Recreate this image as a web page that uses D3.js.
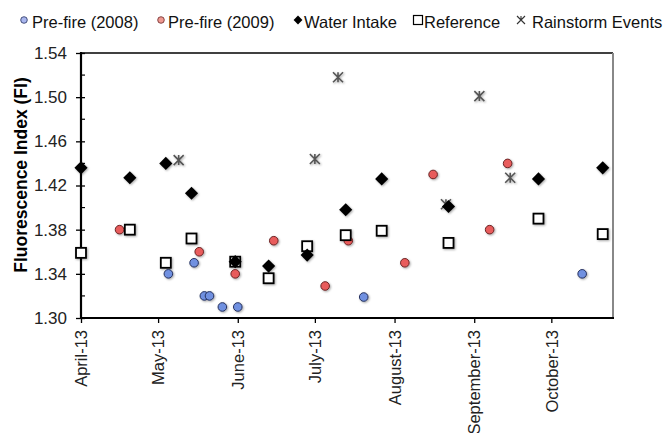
<!DOCTYPE html>
<html>
<head>
<meta charset="utf-8">
<script src="https://cdn.jsdelivr.net/npm/d3@7"></script>
<style>
  body { margin: 0; background: #fff; }
  svg { display: block; font-family: "Liberation Sans", Arial, sans-serif; }
</style>
</head>
<body>
<svg id="chart" width="667" height="433"></svg>
<script>
// values (date, FI)
const preFire2008 = [
  ["2013-05-05", 1.340], ["2013-05-15", 1.350], ["2013-05-19", 1.320],
  ["2013-05-21", 1.320], ["2013-05-26", 1.310], ["2013-06-01", 1.310],
  ["2013-07-20", 1.319], ["2013-10-13", 1.340]
];
const preFire2009 = [
  ["2013-04-16", 1.380], ["2013-05-17", 1.360], ["2013-05-31", 1.340],
  ["2013-06-15", 1.370], ["2013-07-05", 1.329], ["2013-07-14", 1.370],
  ["2013-08-05", 1.350], ["2013-08-16", 1.430], ["2013-09-07", 1.380],
  ["2013-09-14", 1.440]
];
const waterIntake = [
  ["2013-04-01", 1.436], ["2013-04-20", 1.427], ["2013-05-04", 1.440],
  ["2013-05-14", 1.413], ["2013-05-31", 1.351], ["2013-06-13", 1.347],
  ["2013-06-28", 1.357], ["2013-07-13", 1.398], ["2013-07-27", 1.426],
  ["2013-08-22", 1.401], ["2013-09-26", 1.426], ["2013-10-21", 1.436]
];
const reference = [
  ["2013-04-01", 1.359], ["2013-04-20", 1.380], ["2013-05-04", 1.350],
  ["2013-05-14", 1.372], ["2013-05-31", 1.351], ["2013-06-13", 1.336],
  ["2013-06-28", 1.365], ["2013-07-13", 1.375], ["2013-07-27", 1.379],
  ["2013-08-22", 1.368], ["2013-09-26", 1.390], ["2013-10-21", 1.376]
];
const rainstorms = [
  ["2013-05-09", 1.443], ["2013-07-01", 1.444], ["2013-07-10", 1.518],
  ["2013-08-21", 1.403], ["2013-09-03", 1.501], ["2013-09-15", 1.427]
];
const monthTicks = ["2013-04-01", "2013-05-01", "2013-06-01", "2013-07-01",
  "2013-08-01", "2013-09-01", "2013-10-01"];
const yTicks = [1.30, 1.34, 1.38, 1.42, 1.46, 1.50, 1.54];
const yMinor = [1.32, 1.36, 1.40, 1.44, 1.48, 1.52];

const parse = d3.utcParse("%Y-%m-%d");
const svg = d3.select("#chart");

const plotLeft = 81, plotRight = 613, plotTop = 53, plotBottom = 318;

const x = d3.scaleUtc()
  .domain([parse("2013-04-01"), parse("2013-10-25")])
  .range([plotLeft, plotRight]);
const y = d3.scaleLinear()
  .domain([1.30, 1.54])
  .range([plotBottom, plotTop]);

// soft shadow like the spreadsheet markers
const defs = svg.append("defs");
defs.append("filter").attr("id", "shadow")
  .attr("x", "-50%").attr("y", "-50%").attr("width", "200%").attr("height", "200%")
  .append("feDropShadow")
  .attr("dx", 1).attr("dy", 1).attr("stdDeviation", 0.9)
  .attr("flood-color", "#000").attr("flood-opacity", 0.35);

// frame
svg.append("line").attr("x1", plotLeft).attr("x2", plotRight).attr("y1", plotTop).attr("y2", plotTop)
  .attr("stroke", "#000").attr("stroke-width", 1.5);
svg.append("line").attr("x1", plotRight).attr("x2", plotRight).attr("y1", plotTop).attr("y2", plotBottom)
  .attr("stroke", "#888").attr("stroke-width", 2);

// y axis
const yAxis = svg.append("g")
  .attr("transform", `translate(${plotLeft},0)`)
  .call(d3.axisLeft(y).tickValues(yTicks).tickFormat(d3.format(".2f")).tickSize(4).tickPadding(10));
yAxis.select(".domain").remove();
yAxis.selectAll(".tick line").attr("x1", 4).attr("x2", -5).attr("stroke-width", 1.3);
yAxis.selectAll(".tick text").attr("font-size", "17px").attr("fill", "#222")
  .attr("font-family", "Liberation Sans, Arial, sans-serif");

svg.append("g").selectAll("line").data(yMinor).join("line")
  .attr("x1", plotLeft).attr("x2", plotLeft + 4)
  .attr("y1", d => y(d)).attr("y2", d => y(d))
  .attr("stroke", "#000").attr("stroke-width", 1.2);

// x axis
const xAxis = svg.append("g")
  .attr("transform", `translate(0,${plotBottom})`)
  .call(d3.axisBottom(x).tickValues(monthTicks.map(parse))
    .tickFormat(d3.utcFormat("%B-%y")).tickSize(5).tickPadding(7));
xAxis.select(".domain").remove();
xAxis.selectAll(".tick line").attr("stroke-width", 1.3);
xAxis.selectAll(".tick text")
  .attr("transform", "rotate(-90)")
  .attr("text-anchor", "end")
  .attr("x", -12).attr("y", 0).attr("dy", "0.35em")
  .attr("font-size", "16.5px").attr("fill", "#222")
  .attr("font-family", "Liberation Sans, Arial, sans-serif");

svg.append("line").attr("x1", plotLeft).attr("x2", plotLeft).attr("y1", plotTop - 1).attr("y2", plotBottom + 1)
  .attr("stroke", "#000").attr("stroke-width", 2.2);
svg.append("line").attr("x1", plotLeft).attr("x2", plotRight + 1).attr("y1", plotBottom).attr("y2", plotBottom)
  .attr("stroke", "#000").attr("stroke-width", 2.2);

svg.append("text")
  .attr("transform", "translate(27,175) rotate(-90)")
  .attr("text-anchor", "middle")
  .attr("font-size", "17.5px").attr("font-weight", "bold")
  .text("Fluorescence Index (FI)");

// marker painters
const diamond = d3.symbol().type(d3.symbolDiamond2).size(110);
const diamondSmall = d3.symbol().type(d3.symbolDiamond2).size(50);
function drawCircles(g, data, fill, stroke, r) {
  g.selectAll(null).data(data).join("circle")
    .attr("cx", d => x(parse(d[0]))).attr("cy", d => y(d[1]))
    .attr("r", r).attr("fill", fill).attr("stroke", stroke).attr("stroke-width", 1);
}
function drawSquares(g, data, s) {
  g.selectAll(null).data(data).join("rect")
    .attr("x", d => x(parse(d[0])) - s / 2).attr("y", d => y(d[1]) - s / 2)
    .attr("width", s).attr("height", s)
    .attr("fill", "#fff").attr("stroke", "#000").attr("stroke-width", 1.8);
}
function drawStars(g, data, s, w) {
  g.selectAll(null).data(data).join("path")
    .attr("transform", d => `translate(${x(parse(d[0]))},${y(d[1])})`)
    .attr("d", `M${-s},${-s}L${s},${s}M${-s},${s}L${s},${-s}M0,${-s}L0,${s}`)
    .attr("fill", "none").attr("stroke", "#555").attr("stroke-width", w);
}

const marks = svg.append("g").attr("filter", "url(#shadow)");
drawStars(marks.append("g"), rainstorms, 5, 1.6);
drawCircles(marks.append("g"), preFire2009, "#e85b5b", "#6b2424", 4.3);
drawSquares(marks.append("g"), reference, 10);
marks.append("g").selectAll(null).data(waterIntake).join("path")
  .attr("transform", d => `translate(${x(parse(d[0]))},${y(d[1])})`)
  .attr("d", diamond).attr("fill", "#000");
drawCircles(marks.append("g"), preFire2008, "#7090e0", "#24305e", 4.3);

// legend
const legendItems = [
  { label: "Pre-fire (2008)", kind: "c08", mx: 24, tx: 32 },
  { label: "Pre-fire (2009)", kind: "c09", mx: 161, tx: 168 },
  { label: "Water Intake", kind: "dia", mx: 298, tx: 304 },
  { label: "Reference", kind: "sq", mx: 418, tx: 424 },
  { label: "Rainstorm Events", kind: "star", mx: 521, tx: 532 }
];
const legend = svg.append("g");
legendItems.forEach(it => {
  const g = legend.append("g").attr("transform", `translate(${it.mx},20)`);
  if (it.kind === "c08" || it.kind === "c09") {
    g.append("circle").attr("r", 3.3)
      .attr("fill", it.kind === "c08" ? "#a9b6ee" : "#ee9a92")
      .attr("stroke", it.kind === "c08" ? "#24305e" : "#6b2424").attr("stroke-width", 0.8);
  } else if (it.kind === "dia") {
    g.append("path").attr("d", diamondSmall).attr("fill", "#000");
  } else if (it.kind === "sq") {
    g.append("rect").attr("x", -4.5).attr("y", -4.5).attr("width", 9).attr("height", 9)
      .attr("fill", "#fff").attr("stroke", "#000").attr("stroke-width", 1.2);
  } else {
    g.append("path").attr("d", "M-4,-4L4,4M-4,4L4,-4M0,-4L0,0").attr("stroke", "#333")
      .attr("stroke-width", 1.1).attr("fill", "none");
  }
  legend.append("text").attr("x", it.tx).attr("y", 27.5)
    .attr("font-size", "16.5px").attr("fill", "#111").text(it.label);
});
</script>
</body>
</html>
